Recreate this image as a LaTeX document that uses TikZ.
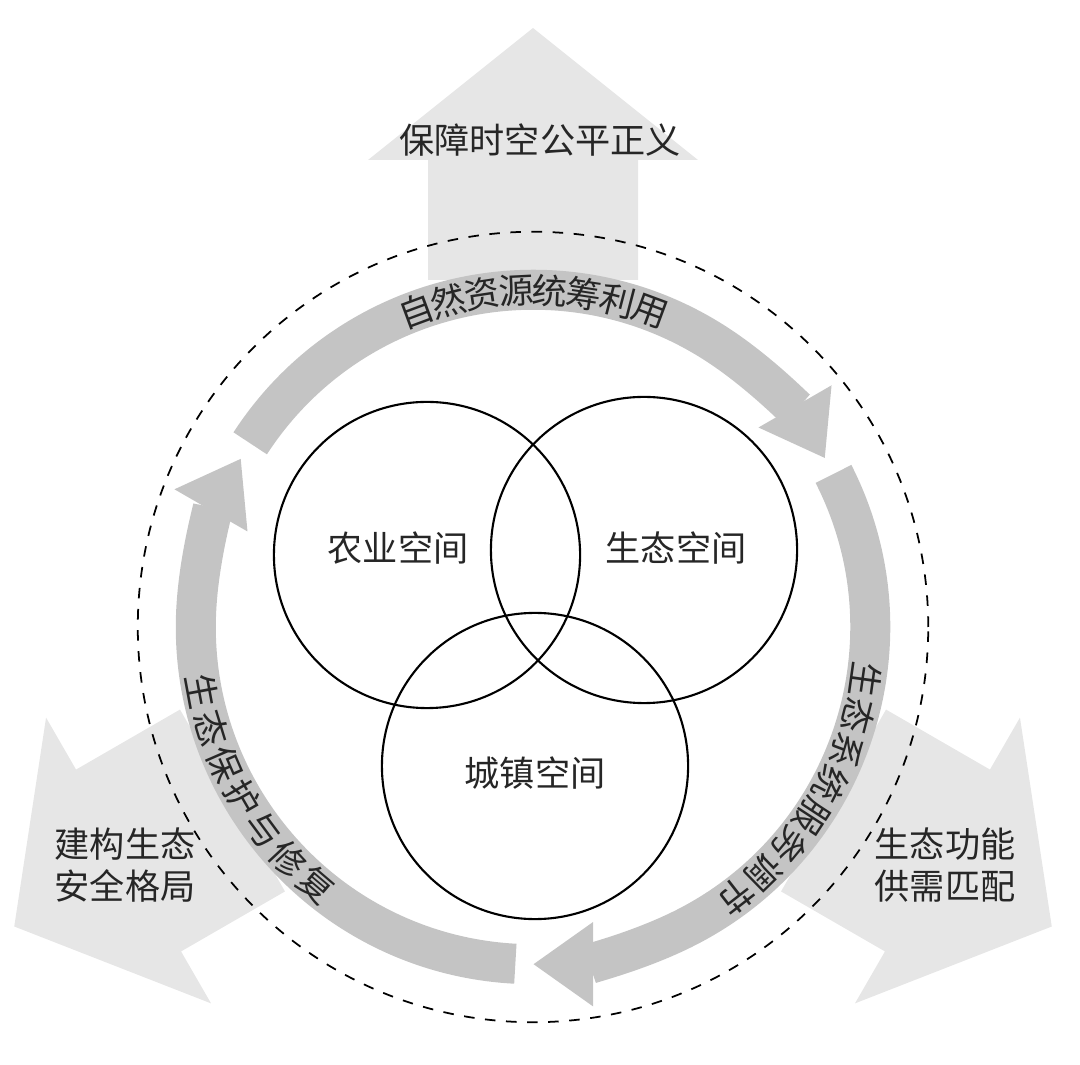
\documentclass[tikz,border=0pt]{standalone}
\usepackage{fontspec}
\setmainfont{Noto Sans CJK SC}
\usetikzlibrary{positioning,arrows.meta}
\definecolor{lightfill}{HTML}{E6E6E6}
\definecolor{ringfill}{HTML}{C4C4C4}
\tikzstyle{zone}=[circle, draw=black, line width=0.6pt, minimum size=3.06cm]
\tikzstyle{caption}=[font=\fontsize{10}{12}\selectfont, text=black!85, align=center]
\tikzstyle{ringtext}=[font=\fontsize{10}{12}\selectfont, text=black!85, inner sep=0pt]
\tikzstyle{ring}=[ringfill, line width=0.4cm, -{Triangle[width=0.8cm,length=0.6cm]}]
\tikzstyle{bigarrow}=[fill=lightfill, draw=none]
\begin{document}
\begin{tikzpicture}[x=0.01cm, y=0.01cm]
  \useasboundingbox (0,0) rectangle (1080,1064);
  \clip (0,0) rectangle (1080,1064);
  % three wide arrows
  \begin{scope}[shift={(533,437)}]
    \foreach \r in {0,120,240}
      \fill[bigarrow, rotate=\r] (-105,347) -- (-105,467) -- (-165,467) -- (0,599)
        -- (165,467) -- (105,467) -- (105,347) -- cycle;
  \end{scope}
  \node (goal) [caption] at (540,924) {保障时空公平正义};
  \node (safety) [caption] at (125,199) {建构生态\\安全格局};
  \node (match) [caption] at (945,199) {生态功能\\供需匹配};
  % boundary
  \node (bound) [circle, draw=black, dashed, line width=0.5pt, minimum size=7.9cm] at (533,437) {};
  % cycle arrows and their texts
  \begin{scope}[shift={(533,437)}]
    \foreach \k in {0,1,2}
      \draw[ring] ({147-120*\k}:3.37cm) arc[start angle={147-120*\k}, end angle={30-120*\k}, radius=3.37cm];
    \foreach \ch [count=\i] in {自,然,资,源,统,筹,利,用}
      \node[ringtext, rotate={(4.5-\i)*5.8}] at ({90+(4.5-\i)*5.8}:337) {\ch};
    \foreach \ch [count=\i] in {生,态,系,统,服,务,调,节}
      \node[ringtext, rotate={-120+(4.5-\i)*6.3}] at ({-31+(4.5-\i)*6.3}:337) {\ch};
    \foreach \ch [count=\i] in {生,态,保,护,与,修,复}
      \node[ringtext, rotate={300+(\i-4)*6.5}] at ({210.5+(\i-4)*6.5}:337) {\ch};
  \end{scope}
  % spaces
  \node (agri) [zone] at (427,509) {};
  \node (eco) [zone] at (644,514) {};
  \node (urban) [zone] at (535,298) {};
  \node (agritext) [caption] at (398,516) {农业空间};
  \node (ecotext) [caption] at (676,516) {生态空间};
  \node (urbantext) [caption] at (535,291) {城镇空间};
\end{tikzpicture}
\end{document}
